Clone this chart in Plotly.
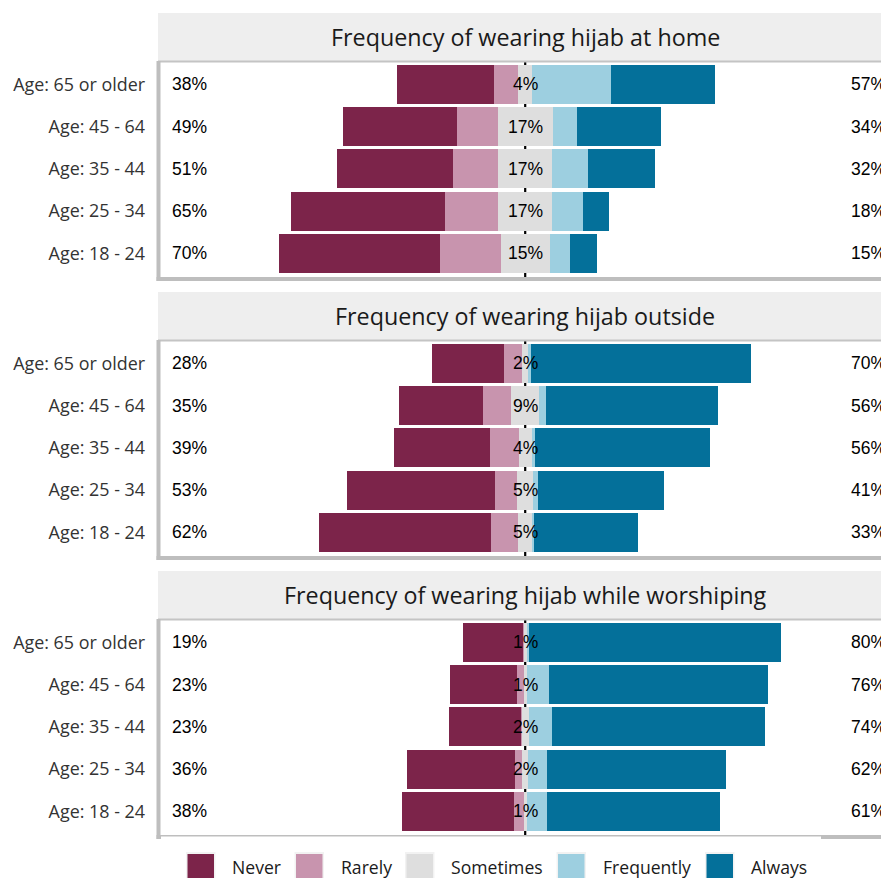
import plotly.graph_objects as go

# ---------------- data ----------------
ages = ["Age: 18 - 24", "Age: 25 - 34", "Age: 35 - 44", "Age: 45 - 64", "Age: 65 or older"]
levels = ["Never", "Rarely", "Sometimes", "Frequently", "Always"]
level_colors = ["#7C244A", "#C894AE", "#DEDEDE", "#9DCFE0", "#04709A"]
facet_titles = [
    "Frequency of wearing hijab at home",
    "Frequency of wearing hijab outside",
    "Frequency of wearing hijab while worshiping",
]

# values in percent, ordered as `ages`
home_never = [50.6, 48.4, 36.5, 35.6, 30.5]
home_rarely = [19.2, 16.7, 14.2, 13.0, 7.8]
home_sometimes = [15.3, 17.0, 17.0, 17.2, 4.3]
home_frequently = [6.3, 9.8, 11.3, 7.8, 24.8]
home_always = [8.6, 8.1, 21.0, 26.2, 32.6]

outside_never = [53.8, 46.5, 30.2, 26.4, 22.6]
outside_rarely = [8.5, 6.9, 9.0, 8.8, 5.6]
outside_sometimes = [4.8, 5.2, 4.1, 8.8, 2.0]
outside_frequently = [0.3, 1.5, 1.0, 2.2, 0.7]
outside_always = [32.7, 39.6, 55.2, 53.9, 69.3]

worship_never = [35.2, 34.0, 22.6, 20.9, 18.8]
worship_rarely = [3.1, 2.2, 0.3, 2.2, 0.2]
worship_sometimes = [1.0, 2.0, 2.3, 1.0, 1.0]
worship_frequently = [6.3, 5.7, 7.2, 6.9, 0.8]
worship_always = [54.4, 56.5, 67.0, 69.0, 79.2]

facets = [
    [home_never, home_rarely, home_sometimes, home_frequently, home_always],
    [outside_never, outside_rarely, outside_sometimes, outside_frequently, outside_always],
    [worship_never, worship_rarely, worship_sometimes, worship_frequently, worship_always],
]

# ---------------- layout geometry ----------------
OFF = 0                   # page margin removed via post_script below
VIEW_W, VIEW_H = 881, 878
W, H = VIEW_W - OFF, VIEW_H - OFF
PANEL_LEFT = 158          # window pixels
ML = PANEL_LEFT - OFF     # figure margin
PX_PER_PCT = 3.18
CENTER_PX = 525.2         # window pixels
panel_tops = [61, 340, 619]   # window pixels
PANEL_H = 218
STRIP_H = 48
x_range = [(PANEL_LEFT - CENTER_PX) / PX_PER_PCT, (VIEW_W - CENTER_PX) / PX_PER_PCT]
y_range = [-0.608, 4.552]


def px(xp):
    """window pixel x -> paper x"""
    return (xp - OFF - ML) / (W - ML)


def py(yp):
    """window pixel y -> paper y"""
    return 1 - (yp - OFF) / H


pct_font = dict(family="Liberation Sans, Arial, sans-serif", size=17.5, color="#000000")
sans = "Open Sans, sans-serif"
border_col = "#BEBEBE"

fig = go.Figure()
shapes = []
annotations = []

for i, vals in enumerate(facets):
    never, rarely, sometimes, frequently, always = vals
    xa = "x" if i == 0 else f"x{i+1}"
    ya = "y" if i == 0 else f"y{i+1}"
    half = [s / 2 for s in sometimes]
    series = [
        ("Sometimes", [-h for h in half], level_colors[2]),
        ("Sometimes", half, level_colors[2]),
        ("Rarely", [-r for r in rarely], level_colors[1]),
        ("Frequently", frequently, level_colors[3]),
        ("Never", [-n for n in never], level_colors[0]),
        ("Always", always, level_colors[4]),
    ]
    for name, xs, col in series:
        fig.add_trace(go.Bar(
            x=xs, y=ages, orientation="h", name=name, width=0.92,
            marker=dict(color=col, line=dict(width=0)),
            xaxis=xa, yaxis=ya, showlegend=False, hoverinfo="skip",
        ))

    # percentage labels
    for a, age in enumerate(ages):
        low = round(never[a] + rarely[a])
        mid = round(sometimes[a])
        high = round(frequently[a] + always[a])
        annotations.append(dict(x=-111.8, y=age, xref=xa, yref=ya, text=f"{low}%",
                                showarrow=False, xanchor="left", font=pct_font))
        annotations.append(dict(x=0, y=age, xref=xa, yref=ya, text=f"{mid}%",
                                showarrow=False, xanchor="center", font=pct_font))
        annotations.append(dict(x=101.8, y=age, xref=xa, yref=ya, text=f"{high}%",
                                showarrow=False, xanchor="left", font=pct_font))

    top = panel_tops[i]
    bot = top + PANEL_H
    # strip
    shapes.append(dict(type="rect", xref="paper", yref="paper", x0=px(158), x1=1.0,
                       y0=py(top), y1=py(top - STRIP_H), fillcolor="#EEEEEE",
                       line=dict(width=0), layer="above"))
    annotations.append(dict(x=0, y=py(top - STRIP_H / 2), xref=xa, yref="paper",
                            text=facet_titles[i], showarrow=False, xanchor="center",
                            yanchor="middle",
                            font=dict(family=sans, size=23.3, color="#1A1A1A")))
    # center line (below bars)
    shapes.append(dict(type="line", xref=xa, yref="paper", x0=0, x1=0,
                       y0=py(bot), y1=py(top), line=dict(color="#000000", width=2.2),
                       layer="below"))
    # panel border: top, left, bottom
    shapes.append(dict(type="line", xref="paper", yref="paper", x0=px(158), x1=1.0,
                       y0=py(top + 0.5), y1=py(top + 0.5),
                       line=dict(color="#C4C4C4", width=2), layer="above"))
    shapes.append(dict(type="line", xref="paper", yref="paper", x0=px(158.5), x1=px(158.5),
                       y0=py(bot + 2), y1=py(top), line=dict(color=border_col, width=4),
                       layer="above"))
    shapes.append(dict(type="line", xref="paper", yref="paper", x0=px(156.5), x1=1.0,
                       y0=py(bot), y1=py(bot), line=dict(color=border_col, width=4),
                       layer="above"))

# legend background covering lower half of last border (as in reference)
shapes.append(dict(type="rect", xref="paper", yref="paper", x0=px(161), x1=px(821),
                   y0=py(839), y1=py(836.6), fillcolor="#FFFFFF", line=dict(width=0),
                   layer="above"))

# ---------------- manual legend ----------------
legend_key_x = [187.5, 296, 406.5, 558, 706.5]   # window pixels
KEY = 26.5
for name, col, kx in zip(levels, level_colors, legend_key_x):
    shapes.append(dict(type="rect", xref="paper", yref="paper",
                       x0=px(kx - 1.5), x1=px(kx + KEY + 1.5), y0=py(880), y1=py(852),
                       fillcolor="#F2F2F2", line=dict(width=0), layer="above"))
    shapes.append(dict(type="rect", xref="paper", yref="paper",
                       x0=px(kx), x1=px(kx + KEY), y0=py(880), y1=py(854),
                       fillcolor=col, line=dict(width=0), layer="above"))
    annotations.append(dict(x=px(kx + KEY + 16), y=py(866.5), xref="paper", yref="paper",
                            text=name, showarrow=False, xanchor="left", yanchor="middle",
                            font=dict(family=sans, size=17.6, color="#1A1A1A")))

layout = dict(
    width=W, height=H,
    margin=dict(l=ML, r=0, t=0, b=0, pad=0),
    paper_bgcolor="#FFFFFF", plot_bgcolor="#FFFFFF",
    barmode="relative", bargap=0,
    showlegend=False,
    shapes=shapes, annotations=annotations,
)
for i in range(3):
    xk = "xaxis" if i == 0 else f"xaxis{i+1}"
    yk = "yaxis" if i == 0 else f"yaxis{i+1}"
    ya = "y" if i == 0 else f"y{i+1}"
    xa = "x" if i == 0 else f"x{i+1}"
    top = panel_tops[i]
    layout[xk] = dict(range=x_range, domain=[0, 1], anchor=ya, showgrid=False,
                      zeroline=False, showticklabels=False, ticks="", fixedrange=True)
    layout[yk] = dict(type="category", categoryorder="array", categoryarray=ages,
                      range=y_range, domain=[py(top + PANEL_H), py(top)], anchor=xa,
                      showgrid=False, zeroline=False, ticks="", ticklabelstandoff=12,
                      tickfont=dict(family=sans, size=17.9, color="#333333"))

fig.update_layout(**layout)
fig.write_html(
    "out.html",
    config={"displayModeBar": False},
    post_script="document.body.style.margin='0';document.body.style.overflow='hidden';",
)
